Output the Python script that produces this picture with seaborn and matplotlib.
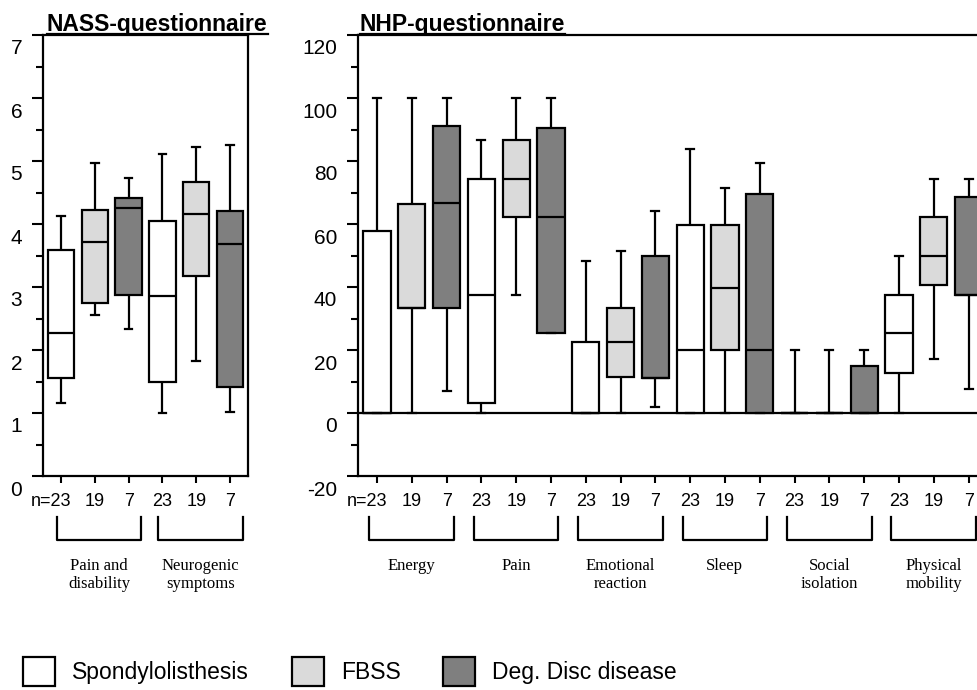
import numpy as np
import pandas as pd
import matplotlib
matplotlib.use("Agg")
import matplotlib.pyplot as plt
import matplotlib.transforms as mtransforms
from matplotlib.patches import Patch
from matplotlib.lines import Line2D
import seaborn as sns

plt.rcParams['font.family'] = ['Liberation Sans', 'DejaVu Sans']
plt.rcParams['axes.unicode_minus'] = False

# groups and sample sizes
groups = ["Spondylolisthesis", "FBSS", "Deg. Disc disease"]
group_colors = ["#ffffff", "#dadada", "#7f7f7f"]
n_counts = ["23", "19", "7"]

# NASS questionnaire (five-number summaries, 3 boxes per domain)
nass_cats = ["Pain and\ndisability", "Neurogenic\nsymptoms"]
nass_low = [1.16, 2.55, 2.33, 1.00, 1.83, 1.02]
nass_q1 = [1.56, 2.74, 2.88, 1.49, 3.18, 1.41]
nass_med = [2.27, 3.72, 4.26, 2.86, 4.16, 3.68]
nass_q3 = [3.59, 4.22, 4.41, 4.05, 4.67, 4.20]
nass_high = [4.12, 4.97, 4.73, 5.11, 5.22, 5.25]

# NHP questionnaire
nhp_cats = ["Energy", "Pain", "Emotional\nreaction", "Sleep", "Social\nisolation", "Physical\nmobility"]
nhp_low = [0, 0, 6.9, 0, 37.6, 25.3, 0, 0, 1.8, 0, 0, 0, 0, 0, 0, 0, 17.2, 7.7]
nhp_q1 = [0, 33.2, 33.3, 3.2, 62.1, 25.3, 0, 11.3, 11.1, 0, 20.0, 0, 0, 0, 0, 12.7, 40.5, 37.6]
nhp_med = [0, 33.2, 66.6, 37.6, 74.4, 62.1, 0, 22.6, 11.1, 20.0, 39.8, 20.0, 0, 0, 0, 25.3, 49.8, 37.6]
nhp_q3 = [57.9, 66.5, 91.0, 74.4, 86.6, 90.5, 22.6, 33.2, 49.8, 59.8, 59.8, 69.5, 0, 0, 14.8, 37.6, 62.1, 68.7]
nhp_high = [100, 100, 100, 86.8, 100, 100, 48.4, 51.4, 64.2, 83.7, 71.5, 79.4, 20, 20, 20, 49.8, 74.2, 74.2]


def box_frame(low, q1, med, q3, high):
    rows = []
    for i in range(len(low)):
        for v in (low[i], q1[i], med[i], q3[i], high[i]):
            rows.append({"slot": i, "group": groups[i % 3], "value": v})
    return pd.DataFrame(rows)


W, H = 978, 690
fig = plt.figure(figsize=(W / 100, H / 100), dpi=100)

top_px, bot_px = 35, 476
ax_l = fig.add_axes([43 / W, (H - bot_px) / H, 205 / W, (bot_px - top_px) / H])
ax_r = fig.add_axes([358 / W, (H - bot_px) / H, 640 / W, (bot_px - top_px) / H])

label_shift = mtransforms.ScaledTranslation(0, -12 / 100, fig.dpi_scale_trans)
n_shift = mtransforms.ScaledTranslation(10 / 100, 0, fig.dpi_scale_trans)


def draw_panel(ax, df, cats, xlim, ylim, major, minor, off0, off1):
    nbox = len(cats) * 3
    sns.boxplot(data=df, x="slot", y="value", hue="group", hue_order=groups,
                palette=dict(zip(groups, group_colors)), saturation=1,
                dodge=False, width=0.78, whis=(0, 100), linecolor="black",
                linewidth=1.6, capwidths=0.23, legend=False, ax=ax)
    ax.set_xlabel("")
    ax.set_ylabel("")

    xlabels = n_counts * len(cats)
    xlabels[0] = "n=" + xlabels[0]
    ax.set_xticks(range(nbox))
    ax.set_xticklabels(xlabels)
    ax.set_yticks(major)
    ax.set_yticks(minor, minor=True)
    ax.tick_params(axis="x", direction="out", length=5, width=1.5, labelsize=13, pad=7)
    ax.tick_params(axis="y", which="major", direction="out", length=8, width=1.5, labelsize=15, pad=7)
    ax.tick_params(axis="y", which="minor", direction="out", length=5, width=1.5)
    for sp in ax.spines.values():
        sp.set_linewidth(1.6)

    for lab in ax.get_yticklabels():
        lab.set_transform(lab.get_transform() + label_shift)
    first = ax.get_xticklabels()[0]
    first.set_horizontalalignment("right")
    first.set_transform(first.get_transform() + n_shift)

    # brackets and domain names under the axis
    trans = mtransforms.blended_transform_factory(ax.transData, ax.transAxes)
    y_top = -(517 - bot_px) / (bot_px - top_px)
    y_bot = -(540 - bot_px) / (bot_px - top_px)
    y_txt = -(558 - bot_px) / (bot_px - top_px)
    for k, cat in enumerate(cats):
        x0 = 3 * k + off0
        x1 = 3 * k + 2 + off1
        ax.add_line(Line2D([x0, x0, x1, x1], [y_top, y_bot, y_bot, y_top],
                           transform=trans, clip_on=False, color="black", lw=1.6))
        ax.text((x0 + x1) / 2, y_txt, cat, transform=trans, ha="center", va="top",
                family="Liberation Serif", fontsize=12, linespacing=1.15)

    ax.set_xlim(xlim)
    ax.set_ylim(ylim)


draw_panel(ax_l, box_frame(nass_low, nass_q1, nass_med, nass_q3, nass_high), nass_cats,
           (-0.53, 5.53), (0, 7), np.arange(0, 8, 1), np.arange(0.5, 7, 1), -0.12, 0.38)

draw_panel(ax_r, box_frame(nhp_low, nhp_q1, nhp_med, nhp_q3, nhp_high), nhp_cats,
           (-0.546, -0.546 + 640 / 34.8), (-20, 120), np.arange(-20, 121, 20),
           np.arange(-10, 120, 20), -0.22, 0.21)
ax_r.axhline(0, color="black", lw=1.6, zorder=0.5)

# titles, underlined
titles = [(47, "NASS-questionnaire"), (360, "NHP-questionnaire")]
txts = []
for x, s in titles:
    txts.append(fig.text(x / W, 1 - 31 / H, s, fontsize=16.5, fontweight="bold",
                         ha="left", va="baseline"))
fig.canvas.draw()
for t in txts:
    bb = t.get_window_extent()
    fig.add_artist(Line2D([bb.x0 / W, bb.x1 / W], [1 - 33.5 / H, 1 - 33.5 / H],
                          transform=fig.transFigure, color="black", lw=1.6))

handles = [Patch(facecolor=c, edgecolor="black", linewidth=1.6, label=g)
           for g, c in zip(groups, group_colors)]
fig.legend(handles=handles, loc="lower left", bbox_to_anchor=(23 / W, 4 / H), ncol=3,
           frameon=False, fontsize=16.5, handlelength=1.4, handleheight=1.58,
           handletextpad=0.75, columnspacing=1.85, borderpad=0, borderaxespad=0)

fig.savefig("out.png", dpi=100)
